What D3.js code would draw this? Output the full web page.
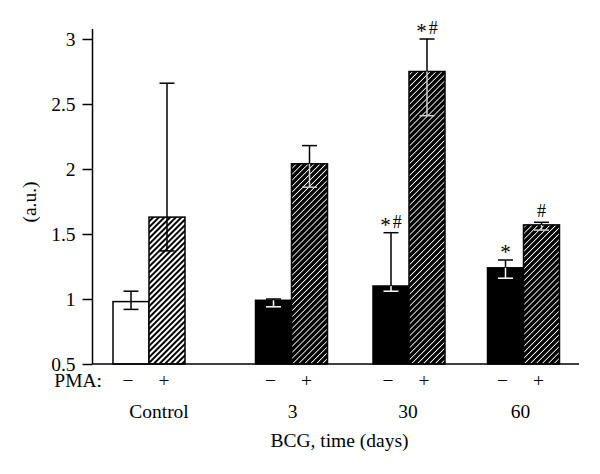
<!DOCTYPE html>
<html>
<head>
<meta charset="utf-8">
<script src="https://cdn.jsdelivr.net/npm/d3@7"></script>
<style>
  html, body { margin: 0; padding: 0; background: #fff; }
  svg { display: block; }
  text { font-family: "Liberation Serif", "Times New Roman", serif; fill: #000; }
</style>
</head>
<body>
<svg id="chart" width="600" height="474"></svg>
<script>
// ---------- data ----------
const groups = ["Control", "3", "30", "60"];
const pmaLabels = ["\u2212", "+"];
const meanMinus  = [0.98, 0.99, 1.10, 1.24];
const meanPlus   = [1.63, 2.04, 2.75, 1.57];
const upperMinus = [1.06, 1.00, 1.51, 1.30];
const upperPlus  = [2.66, 2.18, 3.00, 1.59];
const lowerMinus = [0.92, 0.94, 1.06, 1.16];
const lowerPlus  = [1.37, 1.86, 2.41, 1.53];
const noteMinus  = ["", "", "*#", "*"];
const notePlus   = ["", "", "*#", "#"];
const yTicks = [0.5, 1, 1.5, 2, 2.5, 3];
const yLabel = "(a.u.)";
const xLabel = "BCG, time (days)";
const pmaTitle = "PMA:";

// ---------- layout ----------
const svg = d3.select("#chart");
const fontSize = 19.5;
const y = d3.scaleLinear().domain([0.5, 3]).range([364, 39]);
const axisX0 = 92.5, axisX1 = 579;
const groupX = d3.scaleOrdinal().domain(groups).range([149, 291.5, 409, 523.5]);
const inner = d3.scaleBand().domain(pmaLabels).range([-36, 36]).padding(0);
const labelShift = d3.scaleOrdinal().domain(groups).range([10, 1, -1, -3]);

// patterns
const defs = svg.append("defs");
const pwL = 4, pwD = 4.2;
const pLight = defs.append("pattern").attr("id", "hatchLight")
  .attr("patternUnits", "userSpaceOnUse").attr("width", pwL).attr("height", pwL)
  .attr("patternTransform", "rotate(45)");
pLight.append("rect").attr("width", pwL).attr("height", pwL).attr("fill", "#fff");
pLight.append("line").attr("x1", pwL / 2).attr("y1", -1).attr("x2", pwL / 2).attr("y2", pwL + 1)
  .attr("stroke", "#000").attr("stroke-width", 2.0);
const pDark = defs.append("pattern").attr("id", "hatchDark")
  .attr("patternUnits", "userSpaceOnUse").attr("width", pwD).attr("height", pwD)
  .attr("patternTransform", "rotate(45)");
pDark.append("rect").attr("width", pwD).attr("height", pwD).attr("fill", "#000");
pDark.append("line").attr("x1", pwD / 2).attr("y1", -1).attr("x2", pwD / 2).attr("y2", pwD + 1)
  .attr("stroke", "#fff").attr("stroke-width", 0.85);

// build bar records
const bars = [];
groups.forEach((g, i) => {
  const isControl = i === 0;
  bars.push({ g, pma: pmaLabels[0], mean: meanMinus[i], hi: upperMinus[i], lo: lowerMinus[i],
    note: noteMinus[i], fill: isControl ? "#fff" : "#000", darkInside: !isControl });
  bars.push({ g, pma: pmaLabels[1], mean: meanPlus[i], hi: upperPlus[i], lo: lowerPlus[i],
    note: notePlus[i], fill: isControl ? "url(#hatchLight)" : "url(#hatchDark)", darkInside: !isControl });
});
const bx = d => groupX(d.g) + inner(d.pma);
const bc = d => bx(d) + inner.bandwidth() / 2;

// bars
svg.append("g").selectAll("rect").data(bars).join("rect")
  .attr("x", bx).attr("width", inner.bandwidth())
  .attr("y", d => y(d.mean)).attr("height", d => y(0.5) - y(d.mean))
  .attr("fill", d => d.fill).attr("stroke", "#000").attr("stroke-width", 1.5);

// error bars
const capW = 15;
const eb = svg.append("g").attr("stroke-width", 1.5);
bars.forEach(d => {
  const cx = bc(d);
  const inColor = d.darkInside ? (d.fill === "#000" ? "#fff" : "#d0d0d0") : "#000";
  eb.append("line").attr("x1", cx).attr("x2", cx).attr("y1", y(d.mean)).attr("y2", y(d.hi)).attr("stroke", "#000");
  eb.append("line").attr("x1", cx - capW / 2).attr("x2", cx + capW / 2).attr("y1", y(d.hi)).attr("y2", y(d.hi)).attr("stroke", "#000");
  eb.append("line").attr("x1", cx).attr("x2", cx).attr("y1", y(d.mean)).attr("y2", y(d.lo)).attr("stroke", inColor);
  eb.append("line").attr("x1", cx - capW / 2).attr("x2", cx + capW / 2).attr("y1", y(d.lo)).attr("y2", y(d.lo)).attr("stroke", inColor);
});

// significance notes ("*" lowered to sit beside "#")
const notes = svg.append("g").selectAll("text").data(bars.filter(d => d.note)).join("text")
  .attr("x", bc).attr("y", d => y(d.hi) - 5)
  .attr("text-anchor", "middle").attr("font-size", 18);
notes.each(function (d) {
  const t = d3.select(this);
  Array.from(d.note).forEach((ch, k) => {
    const ts = t.append("tspan").text(ch);
    if (ch === "*") ts.attr("dy", 4).attr("font-size", 21);
    else if (k > 0) ts.attr("dy", -4).attr("dx", 2);
  });
});

// y axis
const yAxis = d3.axisLeft(y).tickValues(yTicks).tickSize(10).tickPadding(7).tickFormat(d3.format(""));
const gy = svg.append("g").attr("transform", `translate(${axisX0},0)`).call(yAxis);
gy.select(".domain").remove();
gy.selectAll(".tick line").attr("stroke", "#000").attr("stroke-width", 1.5);
gy.selectAll(".tick text").attr("font-family", "Liberation Serif, serif").attr("font-size", fontSize).attr("fill", "#000");
svg.append("line").attr("x1", axisX0).attr("x2", axisX0).attr("y1", y(0.5)).attr("y2", y(3) - 10)
  .attr("stroke", "#000").attr("stroke-width", 1.5);
svg.append("line").attr("x1", axisX0).attr("x2", axisX1).attr("y1", y(0.5)).attr("y2", y(0.5))
  .attr("stroke", "#000").attr("stroke-width", 1.5);

// PMA row
svg.append("text").attr("x", 102).attr("y", 387).attr("text-anchor", "end").attr("font-size", fontSize).text(pmaTitle);
svg.append("g").selectAll("text").data(bars).join("text")
  .attr("x", d => bc(d) - 3).attr("y", 387).attr("text-anchor", "middle").attr("font-size", fontSize)
  .text(d => d.pma);

// group labels
svg.append("g").selectAll("text").data(groups).join("text")
  .attr("x", g => groupX(g) + labelShift(g)).attr("y", 418).attr("text-anchor", "middle")
  .attr("font-size", fontSize).text(g => g);

// axis titles
svg.append("text").attr("x", 339.5).attr("y", 447).attr("text-anchor", "middle").attr("font-size", fontSize).text(xLabel);
svg.append("text").attr("transform", "translate(36,202) rotate(-90)").attr("text-anchor", "middle")
  .attr("font-size", fontSize).text(yLabel);
</script>
</body>
</html>
